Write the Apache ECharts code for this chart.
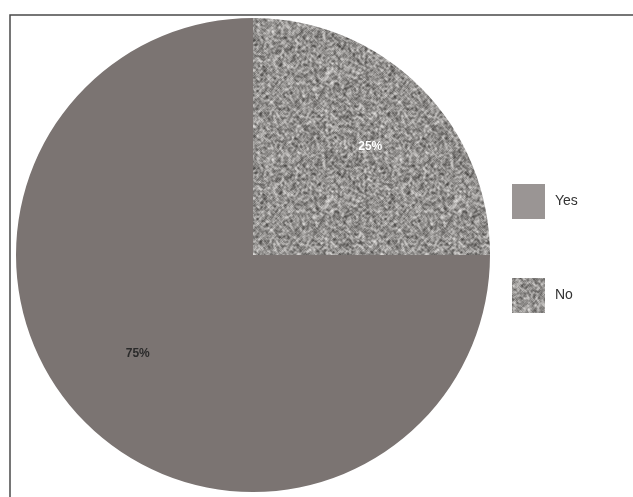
<!DOCTYPE html>
<html>
<head>
<meta charset="utf-8">
<script src="https://cdn.jsdelivr.net/npm/echarts@6/dist/echarts.min.js"></script>
<style>
  html, body { margin: 0; padding: 0; background: #fff; }
  #chart { width: 633px; height: 497px; }
</style>
</head>
<body>
<div id="chart"></div>
<script>
// Survey answers, in drawing order (clockwise from 12 o'clock)
const categories = ['No', 'Yes'];
const shares = [25, 75];
const legendOrder = ['Yes', 'No'];

// Speckled grey texture for the "No" slice (deterministic hash, style only)
function speckleTexture(size) {
  let s = 0x9e3779b9;
  function next() {
    s |= 0; s = (s + 0x6D2B79F5) | 0;
    let t = Math.imul(s ^ (s >>> 15), 1 | s);
    t = (t + Math.imul(t ^ (t >>> 7), 61 | t)) ^ t;
    return ((t ^ (t >>> 14)) >>> 0) / 4294967296;
  }
  const raw = new Float32Array(size * size);
  for (let i = 0; i < raw.length; i++) {
    const r = next();
    raw[i] = r < 0.3 ? 40 + next() * 50 : (r < 0.68 ? 125 + next() * 40 : 195 + next() * 60);
  }
  const c = document.createElement('canvas');
  c.width = size; c.height = size;
  const ctx = c.getContext('2d');
  const img = ctx.createImageData(size, size);
  for (let y = 0; y < size; y++) {
    for (let x = 0; x < size; x++) {
      // light smoothing for a grainy, clumped look
      let sum = 0, w = 0;
      for (let dy = -1; dy <= 1; dy++) {
        for (let dx = -1; dx <= 1; dx++) {
          const k = (dx === 0 && dy === 0) ? 3 : 1;
          sum += k * raw[((y + dy + size) % size) * size + ((x + dx + size) % size)];
          w += k;
        }
      }
      const v = sum / w;
      const i = (y * size + x) * 4;
      img.data[i] = v + 2;
      img.data[i + 1] = v;
      img.data[i + 2] = v - 2;
      img.data[i + 3] = 255;
    }
  }
  ctx.putImageData(img, 0, 0);
  return c;
}

const texture = speckleTexture(128);
const colors = { Yes: '#7b7472', No: { image: texture, repeat: 'repeat' } };
const labelColors = { Yes: '#2a2a2a', No: '#ffffff' };
const labelOffsets = { Yes: [0, -17], No: [2, 7] };

const chart = echarts.init(document.getElementById('chart'), null, { renderer: 'canvas' });

const sliceData = categories.map((name, i) => ({
  name, value: shares[i], itemStyle: { color: colors[name] }
}));

chart.setOption({
  animation: false,
  backgroundColor: '#ffffff',
  graphic: [{
    type: 'rect',
    shape: { x: 10, y: 15, width: 640, height: 490 },
    style: { fill: 'none', stroke: '#4a4a4a', lineWidth: 1.5 },
    z: 0
  }],
  legend: {
    data: [
      { name: legendOrder[0], itemStyle: { color: '#9a9594' } },
      { name: legendOrder[1] }
    ],
    orient: 'vertical',
    left: 512,
    top: 184,
    padding: 0,
    itemWidth: 33,
    itemHeight: 35,
    itemGap: 59,
    icon: 'rect',
    textStyle: {
      fontFamily: 'Liberation Sans, Arial, sans-serif',
      fontSize: 14,
      color: '#333',
      padding: [3, 0, 0, 5]
    }
  },
  series: [
    {
      type: 'pie',
      center: [253, 255],
      radius: [0, 237],
      startAngle: 90,
      clockwise: true,
      silent: true,
      label: { show: false },
      labelLine: { show: false },
      data: sliceData
    },
    {
      // label carrier: transparent ring whose midline sits at the label radius
      type: 'pie',
      center: [253, 255],
      radius: [86, 234],
      startAngle: 90,
      clockwise: true,
      silent: true,
      legendHoverLink: false,
      itemStyle: { color: 'transparent' },
      label: {
        show: true,
        position: 'inside',
        formatter: p => p.value + '%',
        fontFamily: 'Liberation Sans, Arial, sans-serif',
        fontSize: 12,
        fontWeight: 'bold'
      },
      labelLine: { show: false },
      data: categories.map((name, i) => ({
        name, value: shares[i],
        itemStyle: { color: 'rgba(0,0,0,0)' },
        label: { color: labelColors[name], offset: labelOffsets[name] }
      }))
    }
  ]
});
</script>
</body>
</html>
